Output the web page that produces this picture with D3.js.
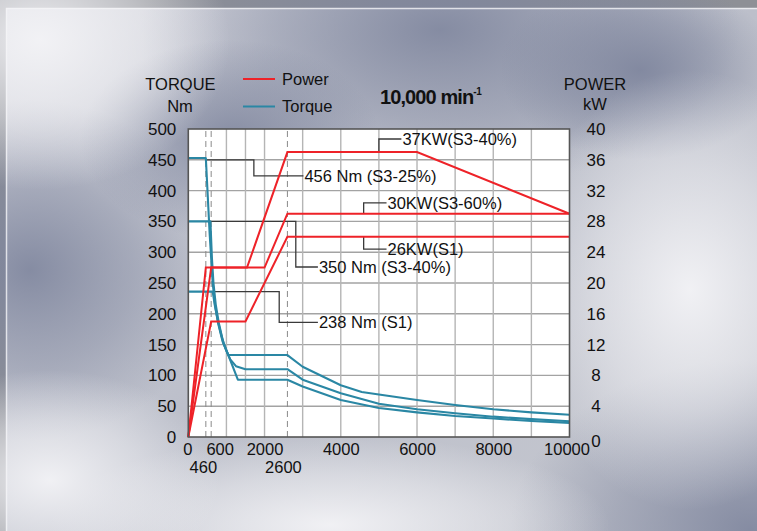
<!DOCTYPE html>
<html>
<head>
<meta charset="utf-8">
<script src="https://cdn.jsdelivr.net/npm/d3@7"></script>
<style>
  html, body { margin: 0; padding: 0; background: #8e9096; }
  svg { display: block; }
  text { font-family: "Liberation Sans", Arial, Helvetica, sans-serif; fill: #111; }
</style>
</head>
<body>
<script>
// ---------------- DATA ----------------
const rpmTicksRow1 = [0, 600, 2000, 4000, 6000, 8000, 10000];
const rpmTicksRow2 = [460, 2600];
const torqueTicks = [0, 50, 100, 150, 200, 250, 300, 350, 400, 450, 500];
const powerTicks = [0, 4, 8, 12, 16, 20, 24, 28, 32, 36, 40];
const gridRpm = [1000, 1500, 2000, 3000, 4000, 5000, 6000, 7000, 8000, 9000];
const dashedRpm = [460, 600, 2600];

// Power curves [rpm, kW]
const powerS3_40 = [[0,0],[460,22],[1540,22],[2600,37],[6000,37],[10000,29]];
const powerS3_60 = [[0,0],[600,22],[2000,22],[2600,29],[10000,29]];
const powerS1    = [[0,0],[600,15],[1500,15],[2600,26],[10000,26]];

// Torque curves [rpm, Nm]
const torqueS3_25 = [[0,453],[460,453],[560,330],[640,250],[700,215],[780,185],[900,155],[1050,133],[2600,133],
  [3000,114],[4000,84],[4550,73],[5000,69],[6000,60],[7000,52],[8000,45],[9000,40],[10000,36]];
const torqueS3_40 = [[0,350],[580,350],[620,290],[660,250],[720,215],[800,185],[920,153],[1000,140],[1100,126],[1250,115],[1500,110],[2600,110],
  [3000,93],[4000,71],[5000,54],[6000,45],[7000,38.5],[8000,33],[9000,29],[10000,25.5]];
const torqueS1 = [[0,236],[640,236],[700,212],[780,187],[880,162],[960,147],[1300,93],[2600,93],
  [3000,82],[4000,60],[5000,47],[6000,40],[7000,34],[8000,30],[9000,26],[10000,23]];

// Annotation leaders
const torqueNotes = [
  { label: "456 Nm (S3-25%)", pts: [[490,450],[1720,450],[1720,424],[3020,424]] },
  { label: "350 Nm (S3-40%)", pts: [[580,350],[2820,350],[2820,276],[3400,276]] },
  { label: "238 Nm (S1)",     pts: [[700,236],[2385,236],[2385,186],[3400,186]] }
];
const powerNotes = [
  { label: "37KW(S3-40%)", pts: [[5000,37],[5000,38.7],[5590,38.7]] },
  { label: "30KW(S3-60%)", pts: [[4600,29],[4600,30.4],[5200,30.4]] },
  { label: "26KW(S1)",     pts: [[4600,26],[4600,24.4],[5200,24.4]] }
];

// ---------------- DRAW ----------------
const W = 757, H = 531;
const svg = d3.select("body").append("svg").attr("width", W).attr("height", H);
const defs = svg.append("defs");

// background
function radial(id, color, op) {
  const g = defs.append("radialGradient").attr("id", id);
  g.append("stop").attr("offset", "0%").attr("stop-color", color).attr("stop-opacity", op);
  g.append("stop").attr("offset", "55%").attr("stop-color", color).attr("stop-opacity", op * 0.5);
  g.append("stop").attr("offset", "100%").attr("stop-color", color).attr("stop-opacity", 0);
}
radial("dk", "#7e859d", 0.9);
radial("lt", "#f3f3f6", 0.95);
const lin = defs.append("linearGradient").attr("id", "base").attr("x1", 0).attr("y1", 0).attr("x2", 1).attr("y2", 1);
lin.append("stop").attr("offset", "0%").attr("stop-color", "#d8d9e0");
lin.append("stop").attr("offset", "50%").attr("stop-color", "#bcbfca");
lin.append("stop").attr("offset", "100%").attr("stop-color", "#c6c8d0");

svg.append("rect").attr("width", W).attr("height", H).attr("fill", "#8e9096");
const bg = svg.append("g");
bg.append("rect").attr("x", 6).attr("y", 8).attr("width", W - 6).attr("height", H - 8).attr("fill", "url(#base)");
const blobs = [
  ["dk", 440, 30, 300, 160], ["dk", 30, 270, 190, 170], ["dk", 750, 530, 240, 170],
  ["dk", 230, 140, 150, 100], ["dk", 640, 70, 140, 90],
  ["lt", 40, 40, 190, 150], ["lt", 690, 290, 170, 220], ["lt", 330, 525, 280, 90],
  ["lt", 50, 480, 170, 110]
];
blobs.forEach(([id, cx, cy, rx, ry]) => {
  bg.append("ellipse").attr("cx", cx).attr("cy", cy).attr("rx", rx).attr("ry", ry).attr("fill", `url(#${id})`);
});
bg.append("rect").attr("x", 6.5).attr("y", 8.5).attr("width", W).attr("height", H)
  .attr("fill", "none").attr("stroke", "#f4f4f6").attr("stroke-width", 1.5).attr("opacity", 0.8);

// scales
const x = d3.scaleLinear().domain([0, 10000]).range([188.3, 569.5]);
const yT = d3.scaleLinear().domain([0, 500]).range([437, 129]);
const yP = d3.scaleLinear().domain([0, 40]).range([437, 129]);

// plot background
svg.append("rect").attr("x", x(0)).attr("y", yT(500)).attr("width", x(10000) - x(0)).attr("height", yT(0) - yT(500))
  .attr("fill", "#ffffff");

// grid
const grid = svg.append("g");
grid.selectAll("line.h").data(torqueTicks.slice(1, -1)).join("line")
  .attr("x1", x(0)).attr("x2", x(10000)).attr("y1", d => yT(d)).attr("y2", d => yT(d))
  .attr("stroke", "#a3a3a3").attr("stroke-width", 1.4);
grid.selectAll("line.v").data(gridRpm).join("line")
  .attr("x1", d => x(d)).attr("x2", d => x(d)).attr("y1", yT(0)).attr("y2", yT(500))
  .attr("stroke", "#b5b5b5").attr("stroke-width", 1.4);
grid.selectAll("line.d").data(dashedRpm).join("line")
  .attr("x1", d => x(d)).attr("x2", d => x(d)).attr("y1", yT(0)).attr("y2", yT(500))
  .attr("stroke", "#8a8a8a").attr("stroke-width", 1).attr("stroke-dasharray", "6,4");

// annotation leaders
const lineT = d3.line().x(d => x(d[0])).y(d => yT(d[1]));
const lineP = d3.line().x(d => x(d[0])).y(d => yP(d[1]));
const notes = svg.append("g");
torqueNotes.forEach(n => {
  notes.append("path").attr("d", lineT(n.pts)).attr("fill", "none").attr("stroke", "#3a3a3a").attr("stroke-width", 1.3);
  const e = n.pts[n.pts.length - 1];
  notes.append("text").attr("x", x(e[0]) + 1).attr("y", yT(e[1])).attr("dy", "0.36em")
    .attr("font-size", 16.5).text(n.label);
});
powerNotes.forEach(n => {
  notes.append("path").attr("d", lineP(n.pts)).attr("fill", "none").attr("stroke", "#3a3a3a").attr("stroke-width", 1.3);
  const e = n.pts[n.pts.length - 1];
  notes.append("text").attr("x", x(e[0]) + 1).attr("y", yP(e[1])).attr("dy", "0.36em")
    .attr("font-size", 16.5).text(n.label);
});

// curves
const teal = "#2a87a4", red = "#ee2228";
[torqueS3_25, torqueS3_40, torqueS1].forEach(s => {
  svg.append("path").attr("d", lineT(s)).attr("fill", "none").attr("stroke", teal)
    .attr("stroke-width", 2.1).attr("stroke-linejoin", "round");
});
[powerS3_40, powerS3_60, powerS1].forEach(s => {
  svg.append("path").attr("d", lineP(s)).attr("fill", "none").attr("stroke", red)
    .attr("stroke-width", 2).attr("stroke-linejoin", "miter");
});

// frame
svg.append("rect").attr("x", x(0)).attr("y", yT(500)).attr("width", x(10000) - x(0)).attr("height", yT(0) - yT(500))
  .attr("fill", "none").attr("stroke", "#555").attr("stroke-width", 1.6);

// axes
const axL = svg.append("g").attr("transform", `translate(${x(0)},0)`)
  .call(d3.axisLeft(yT).tickValues(torqueTicks).tickSize(0).tickPadding(12).tickFormat(d3.format("d")));
const axR = svg.append("g").attr("transform", `translate(${x(10000)},0)`)
  .call(d3.axisRight(yP).tickValues(powerTicks).tickSize(0).tickFormat(d3.format("d")));
axR.selectAll("text").attr("x", 596 - x(10000)).attr("text-anchor", "middle");
axR.selectAll(".tick").filter(d => d === 0).select("text").attr("dy", "0.55em");
const ax1 = svg.append("g").attr("transform", `translate(0,${yT(0)})`)
  .call(d3.axisBottom(x).tickValues(rpmTicksRow1).tickSize(0).tickPadding(6.5).tickFormat(d3.format("d")));
const shift1 = { 0: -1, 600: 8.5, 10000: -3 };
ax1.selectAll(".tick text").attr("dx", d => shift1[d] || 0);
const ax2 = svg.append("g").attr("transform", `translate(0,${yT(0)})`)
  .call(d3.axisBottom(x).tickValues(rpmTicksRow2).tickSize(0).tickPadding(24.5).tickFormat(d3.format("d")));
const shift2 = { 460: -3, 2600: -4.5 };
ax2.selectAll(".tick text").attr("dx", d => shift2[d] || 0);
[axL, axR].forEach(a => a.selectAll("text").attr("font-size", 17));
[ax1, ax2].forEach(a => a.selectAll("text").attr("font-size", 16.5));
[axL, axR, ax1, ax2].forEach(a => {
  a.select(".domain").remove();
  a.selectAll("text").attr("fill", "#111")
    .attr("font-family", "'Liberation Sans', Arial, Helvetica, sans-serif");
});

// titles
svg.append("text").attr("x", 180.5).attr("y", 89.5).attr("text-anchor", "middle").attr("font-size", 16.5).text("TORQUE");
svg.append("text").attr("x", 180).attr("y", 112).attr("text-anchor", "middle").attr("font-size", 16.5).text("Nm");
svg.append("text").attr("x", 595).attr("y", 89.5).attr("text-anchor", "middle").attr("font-size", 16.5).text("POWER");
svg.append("text").attr("x", 595).attr("y", 110).attr("text-anchor", "middle").attr("font-size", 16.5).text("kW");

// legend
const legend = [{ name: "Power", color: red, y: 79 }, { name: "Torque", color: teal, y: 106.5 }];
legend.forEach(l => {
  svg.append("line").attr("x1", 243).attr("x2", 275).attr("y1", l.y).attr("y2", l.y)
    .attr("stroke", l.color).attr("stroke-width", 2);
  svg.append("text").attr("x", 282).attr("y", l.y).attr("dy", "0.36em").attr("font-size", 16.5).text(l.name);
});

// speed title
const t = svg.append("text").attr("x", 380).attr("y", 104.3).attr("font-size", 20).attr("font-weight", "bold")
  .attr("letter-spacing", -0.9).attr("fill", "#111");
t.append("tspan").text("10,000 min");
t.append("tspan").attr("font-size", 10).attr("dy", -9).attr("letter-spacing", -0.3).text("-1");
</script>
</body>
</html>
